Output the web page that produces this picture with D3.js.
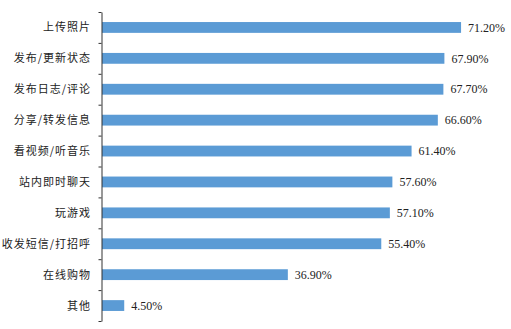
<!DOCTYPE html>
<html><head><meta charset="utf-8">
<script src="https://cdn.jsdelivr.net/npm/d3@7"></script>
<style>html,body{margin:0;padding:0;background:#fff;}</style>
</head><body>
<svg id="c" width="511" height="329"></svg>
<script>
const categories = ["上传照片","发布/更新状态","发布日志/评论","分享/转发信息","看视频/听音乐","站内即时聊天","玩游戏","收发短信/打招呼","在线购物","其他"];
const values = [71.2, 67.9, 67.7, 66.6, 61.4, 57.6, 57.1, 55.4, 36.9, 4.5];
const valueLabels = ["71.20%","67.90%","67.70%","66.60%","61.40%","57.60%","57.10%","55.40%","36.90%","4.50%"];

(function () {
const svg = d3.select("#c");
const mLeft = 101.5, mTop = 12, mBottom = 321;
const x = d3.scaleLinear().domain([0, 80]).range([mLeft, mLeft + 80 * 5.05]);
const y = d3.scaleBand().domain(categories).range([mTop, mBottom]).paddingInner(0.65).paddingOuter(0.325);
const yIdx = d3.scaleLinear().domain([0, categories.length]).range([mTop, mBottom]);

svg.selectAll("rect.bar").data(values).join("rect")
  .attr("class", "bar")
  .attr("x", x(0) + 0.5)
  .attr("y", (d, i) => y(categories[i]))
  .attr("width", d => x(d) - x(0) - 0.5)
  .attr("height", y.bandwidth())
  .attr("fill", "#5B9BD5");

svg.selectAll("text.val").data(values).join("text")
  .attr("class", "val")
  .attr("x", d => x(d) + 7)
  .attr("y", (d, i) => y(categories[i]) + y.bandwidth() / 2)
  .attr("dy", "0.35em")
  .attr("font-family", "'Liberation Serif','Times New Roman',serif")
  .attr("font-size", 12)
  .attr("fill", "#222")
  .text((d, i) => valueLabels[i]);

const ax = svg.append("g").attr("transform", `translate(${mLeft},0)`)
  .call(d3.axisLeft(yIdx).tickValues(d3.range(categories.length + 1)).tickSize(3).tickSizeOuter(0).tickFormat(""));
ax.selectAll("path,line").attr("stroke", "#333");

svg.selectAll("text.cat").data(categories).join("text")
  .attr("class", "cat")
  .attr("x", 91)
  .attr("y", d => y(d) + y.bandwidth() / 2)
  .attr("dy", "0.36em")
  .attr("text-anchor", "end")
  .attr("font-family", "'Noto Sans CJK SC',sans-serif")
  .attr("font-size", 11)
  .attr("letter-spacing", 1)
  .attr("fill", "#222")
  .text(d => d);
})();
</script>
</body></html>
